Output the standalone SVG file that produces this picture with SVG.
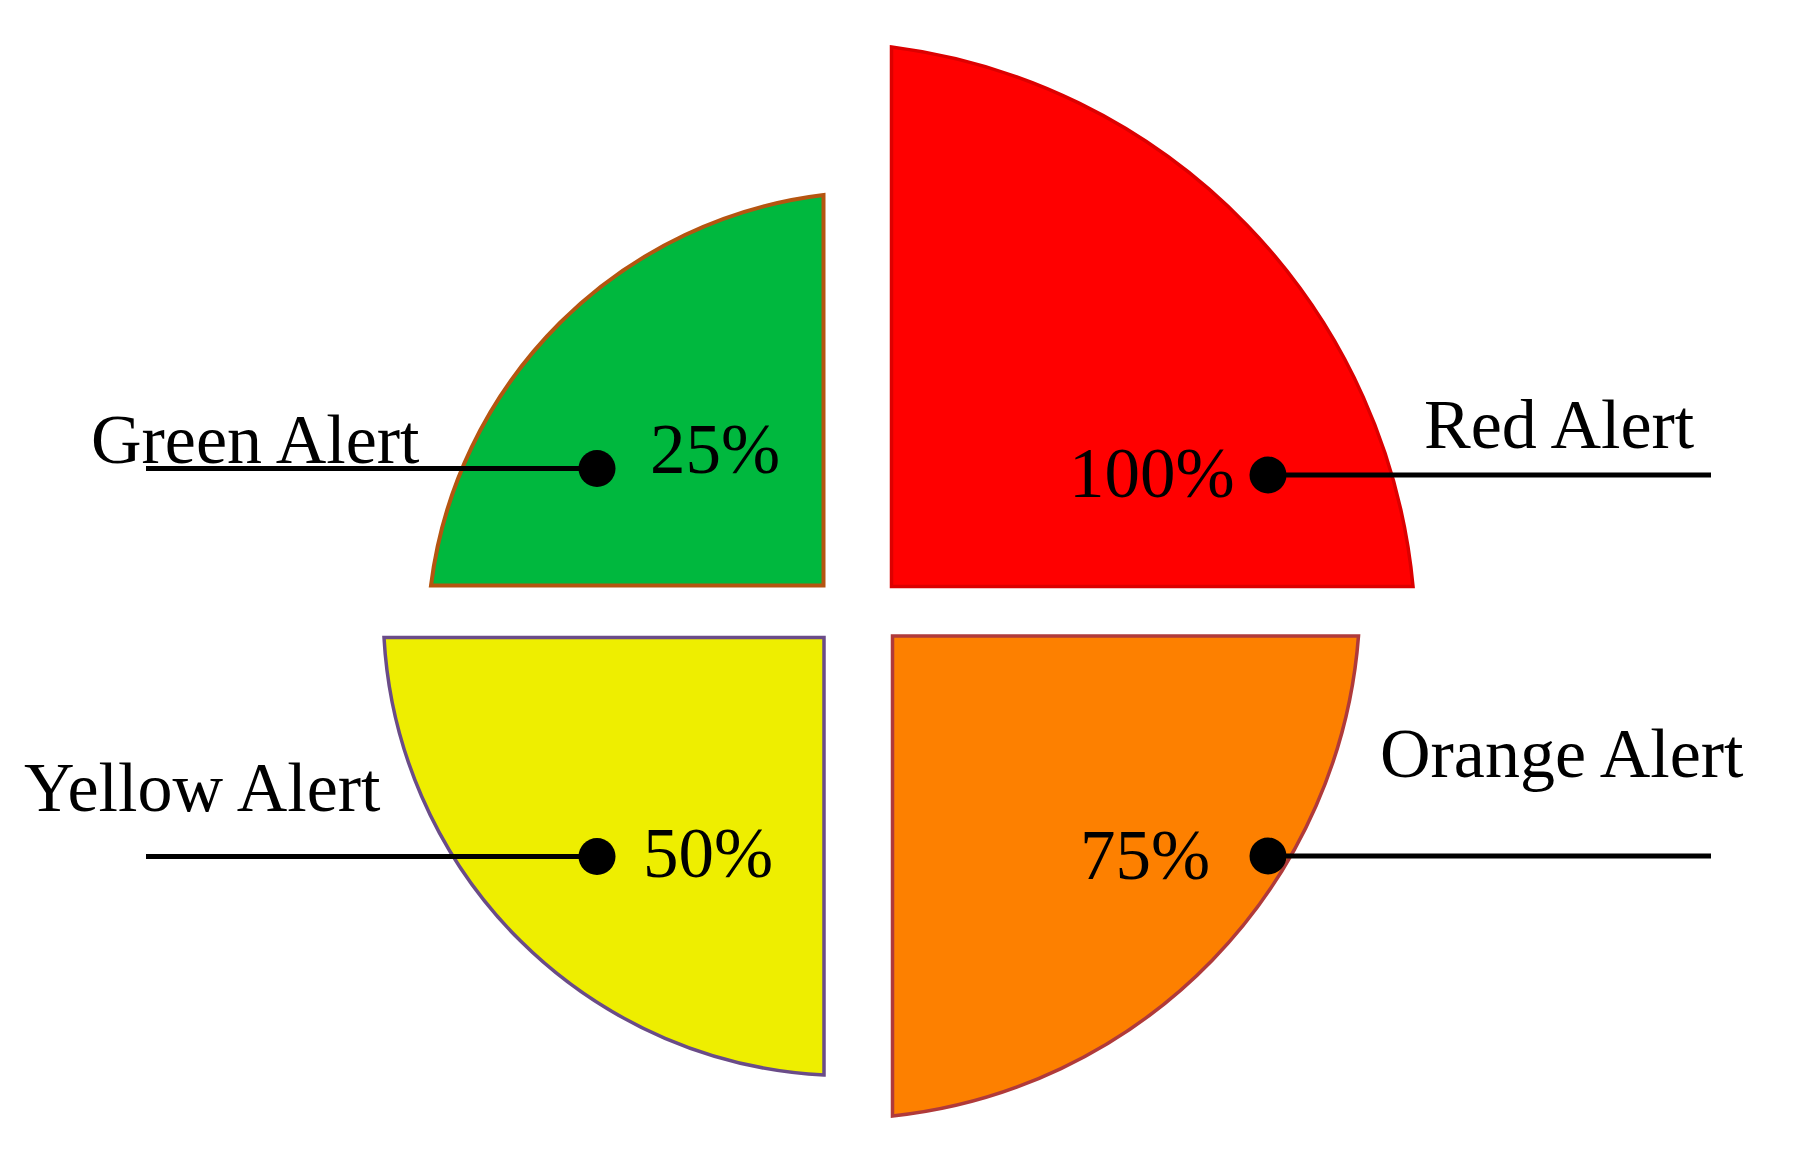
<svg xmlns="http://www.w3.org/2000/svg" width="1793" height="1151" viewBox="0 0 1793 1151">
<style>
  .lbl { font-family: "Liberation Serif", "Times New Roman", serif; font-size: 70px; fill: #000; }
  .pct { font-family: "Liberation Serif", "Times New Roman", serif; font-size: 71px; fill: #000; }
  .lead { stroke: #000; stroke-width: 5; fill: none; }
  .dot { fill: #000; }
</style>
<rect x="0" y="0" width="1793" height="1151" fill="#ffffff"/>
<g id="red-quadrant">
  <path d="M 891.5,586.5 L 891.5,47 A 600 600 0 0 1 1413,586.5 Z" fill="#ff0000" stroke="#dc0000" stroke-width="3.5"/>
</g>
<g id="green-quadrant">
  <path d="M 823.5,585.5 L 823.5,195 A 450 450 0 0 0 431,585.5 Z" fill="#00b83e" stroke="#b55510" stroke-width="4"/>
</g>
<g id="yellow-quadrant">
  <path d="M 824,637.5 L 384,637.5 A 464 464 0 0 0 824,1075 Z" fill="#eeee00" stroke="#6a4c88" stroke-width="3.5"/>
</g>
<g id="orange-quadrant">
  <path d="M 892.5,636 L 1358.5,636 A 523 523 0 0 1 892.5,1116 Z" fill="#fd8000" stroke="#b03a3a" stroke-width="3.5"/>
</g>
<g id="connectors">
  <line class="lead" x1="146" y1="468.5" x2="597" y2="468.5"/>
  <line class="lead" x1="1268" y1="475" x2="1711" y2="475"/>
  <line class="lead" x1="146" y1="856.5" x2="597" y2="856.5"/>
  <line class="lead" x1="1268" y1="856" x2="1711" y2="856"/>
  <circle class="dot" cx="597" cy="468.5" r="18.5"/>
  <circle class="dot" cx="1268" cy="475" r="18.5"/>
  <circle class="dot" cx="597" cy="856.5" r="18.5"/>
  <circle class="dot" cx="1268" cy="856" r="18.5"/>
</g>
<g id="green-alert">
  <text class="lbl" x="91" y="463">Green Alert</text>
  <text class="pct" x="650" y="473">25%</text>
</g>
<g id="red-alert">
  <text class="lbl" x="1424" y="448">Red Alert</text>
  <text class="pct" x="1069" y="497">100%</text>
</g>
<g id="yellow-alert">
  <text class="lbl" x="24" y="811">Yellow Alert</text>
  <text class="pct" x="643" y="877">50%</text>
</g>
<g id="orange-alert">
  <text class="lbl" x="1380" y="777">Orange Alert</text>
  <text class="pct" x="1080" y="879">75%</text>
</g>
</svg>
